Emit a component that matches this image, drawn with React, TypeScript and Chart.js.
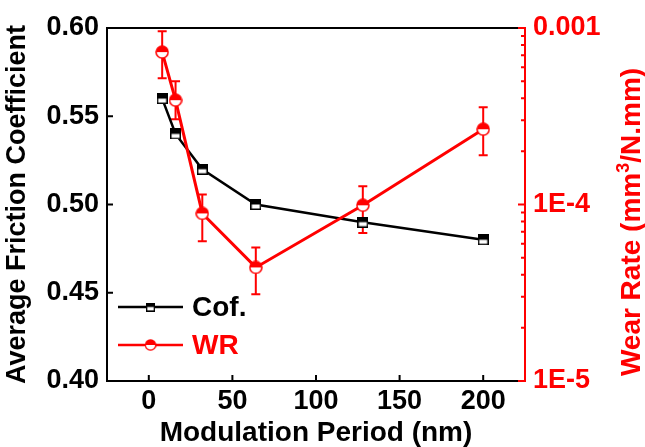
import React, { useEffect, useRef } from 'react';
import { Chart, registerables } from 'chart.js';

Chart.register(...registerables);

const periods = [8, 16, 32, 64, 128, 200];
const cofValues = [0.56, 0.54, 0.52, 0.5, 0.49, 0.48];
const wrValues = [7.3e-4, 3.9e-4, 8.9e-5, 4.4e-5, 9.9e-5, 2.67e-4];
const wrErrHigh = [9.6e-4, 5.0e-4, 1.14e-4, 5.7e-5, 1.27e-4, 3.56e-4];
const wrErrLow = [5.2e-4, 3.04e-4, 6.2e-5, 3.1e-5, 6.9e-5, 1.9e-4];

const xTickValues = [0, 50, 100, 150, 200];
const cofTickValues = [0.4, 0.45, 0.5, 0.55, 0.6];
const wrDecades = [-5, -4, -3];
const wrTickLabels = ['1E-5', '1E-4', '0.001'];

const FONT = '"Liberation Sans", Arial, sans-serif';
const BLACK = '#000000';
const RED = '#ff0000';

function halfSquare(size: number, color: string) {
  const c = document.createElement('canvas');
  c.width = size;
  c.height = size;
  const g = c.getContext('2d')!;
  g.fillStyle = '#fff';
  g.fillRect(0, 0, size, size);
  g.fillStyle = color;
  g.fillRect(0, 0, size, size / 2);
  g.strokeStyle = color;
  g.lineWidth = 1.5;
  g.strokeRect(0.75, 0.75, size - 1.5, size - 1.5);
  return c;
}

function halfCircle(size: number, color: string) {
  const c = document.createElement('canvas');
  c.width = size;
  c.height = size;
  const g = c.getContext('2d')!;
  const r = size / 2 - 1;
  const cx = size / 2;
  g.fillStyle = '#fff';
  g.beginPath();
  g.arc(cx, cx, r, 0, Math.PI * 2);
  g.fill();
  g.fillStyle = color;
  g.beginPath();
  g.arc(cx, cx, r, Math.PI, Math.PI * 2);
  g.closePath();
  g.fill();
  g.strokeStyle = color;
  g.lineWidth = 1.5;
  g.beginPath();
  g.arc(cx, cx, r, 0, Math.PI * 2);
  g.stroke();
  return c;
}

export default function App() {
  const ref = useRef<HTMLCanvasElement>(null);

  useEffect(() => {
    document.body.style.margin = '0';
    const canvas = ref.current!;
    const sq = halfSquare(11, BLACK);
    const ci = halfCircle(14, RED);

    const errorBars = {
      id: 'errorBars',
      beforeDatasetsDraw(chart: any) {
        const ctx = chart.ctx;
        const xs = chart.scales.x;
        const ys = chart.scales.y2;
        ctx.save();
        ctx.strokeStyle = RED;
        ctx.lineWidth = 2;
        periods.forEach((p, i) => {
          const px = xs.getPixelForValue(p);
          const hi = ys.getPixelForValue(wrErrHigh[i]);
          const lo = ys.getPixelForValue(wrErrLow[i]);
          ctx.beginPath();
          ctx.moveTo(px, hi);
          ctx.lineTo(px, lo);
          ctx.moveTo(px - 4.5, hi);
          ctx.lineTo(px + 4.5, hi);
          ctx.moveTo(px - 4.5, lo);
          ctx.lineTo(px + 4.5, lo);
          ctx.stroke();
        });
        ctx.restore();
      },
    };

    const decorations = {
      id: 'decorations',
      afterDraw(chart: any) {
        const ctx = chart.ctx;
        const { left, right, top, bottom } = chart.chartArea;
        ctx.save();
        // top frame
        ctx.strokeStyle = BLACK;
        ctx.lineWidth = 2;
        ctx.beginPath();
        ctx.moveTo(left, top);
        ctx.lineTo(right, top);
        ctx.stroke();
        // inner ticks
        const xs = chart.scales.x;
        ctx.beginPath();
        xs.ticks.forEach((t: any) => {
          const px = xs.getPixelForValue(t.value);
          ctx.moveTo(px, bottom);
          ctx.lineTo(px, bottom - 6);
        });
        const ys = chart.scales.y;
        ys.ticks.forEach((t: any) => {
          const py = ys.getPixelForValue(t.value);
          ctx.moveTo(left, py);
          ctx.lineTo(left + 6, py);
        });
        ctx.stroke();
        const y2 = chart.scales.y2;
        ctx.strokeStyle = RED;
        ctx.beginPath();
        y2.ticks.forEach((t: any) => {
          const py = y2.getPixelForValue(t.value);
          const len = t.major ? 7 : 4;
          ctx.moveTo(right, py);
          ctx.lineTo(right - len, py);
        });
        ctx.stroke();

        // legend
        const items = chart.data.datasets.map((d: any) => ({
          label: d.label,
          color: d.borderColor,
          img: d.pointStyle,
        }));
        const order = [1, 0];
        const lx0 = left + 11;
        const lx1 = left + 76;
        const ly = [307, 345];
        order.forEach((di, k) => {
          const it = items[di];
          ctx.strokeStyle = it.color;
          ctx.lineWidth = 2.5;
          ctx.beginPath();
          ctx.moveTo(lx0, ly[k]);
          ctx.lineTo(lx1, ly[k]);
          ctx.stroke();
          const img = it.img as HTMLCanvasElement;
          const s = di === 1 ? 9 : 12;
          ctx.drawImage(img, (lx0 + lx1) / 2 - s / 2, ly[k] - s / 2, s, s);
          ctx.fillStyle = it.color;
          ctx.font = `bold 28px ${FONT}`;
          ctx.textBaseline = 'middle';
          ctx.textAlign = 'left';
          ctx.fillText(it.label, left + 85, ly[k] + 1);
        });

        // right axis title
        ctx.save();
        ctx.translate(640, 222);
        ctx.rotate(-Math.PI / 2);
        ctx.fillStyle = RED;
        ctx.textBaseline = 'alphabetic';
        ctx.textAlign = 'left';
        const big = `bold 28px ${FONT}`;
        const small = `bold 18px ${FONT}`;
        const p1 = 'Wear Rate (mm';
        const p2 = '3';
        const p3 = '/N.mm)';
        ctx.font = big;
        const w1 = ctx.measureText(p1).width;
        const w3 = ctx.measureText(p3).width;
        ctx.font = small;
        const w2 = ctx.measureText(p2).width;
        const total = w1 + w2 + w3;
        let x = -total / 2;
        ctx.font = big;
        ctx.fillText(p1, x, 0);
        x += w1;
        ctx.font = small;
        ctx.fillText(p2, x, -11);
        x += w2;
        ctx.font = big;
        ctx.fillText(p3, x, 0);
        ctx.restore();

        ctx.restore();
      },
    };

    const chart = new Chart(canvas, {
      type: 'line',
      data: {
        datasets: [
          {
            label: 'WR',
            data: periods.map((p, i) => ({ x: p, y: wrValues[i] })),
            yAxisID: 'y2',
            borderColor: RED,
            backgroundColor: RED,
            borderWidth: 3,
            pointStyle: ci as any,
            pointRadius: 7,
            order: 0,
          },
          {
            label: 'Cof.',
            data: periods.map((p, i) => ({ x: p, y: cofValues[i] })),
            yAxisID: 'y',
            borderColor: BLACK,
            backgroundColor: BLACK,
            borderWidth: 2.5,
            pointStyle: sq as any,
            pointRadius: 6,
            order: 1,
          },
        ],
      },
      options: {
        animation: false,
        responsive: false,
        devicePixelRatio: 1,
        layout: { padding: { top: 28, left: 0, right: 0, bottom: 0 } },
        plugins: {
          legend: { display: false },
          tooltip: { enabled: false },
        },
        scales: {
          x: {
            type: 'linear',
            position: 'bottom',
            min: -25,
            max: 225,
            afterBuildTicks: (s: any) => {
              s.ticks = xTickValues.map((v) => ({ value: v }));
            },
            afterFit: (s: any) => {
              s.height = 66;
            },
            grid: { display: false, drawTicks: false },
            border: { display: true, color: BLACK, width: 2 },
            ticks: {
              color: BLACK,
              font: { family: FONT, size: 27, weight: 'bold' },
              padding: 4,
              maxRotation: 0,
              autoSkip: false,
            },
            title: {
              display: true,
              text: 'Modulation Period (nm)',
              color: BLACK,
              font: { family: FONT, size: 28, weight: 'bold', lineHeight: 1 },
              padding: 0,
            },
          },
          y: {
            type: 'linear',
            position: 'left',
            min: 0.4,
            max: 0.6,
            afterBuildTicks: (s: any) => {
              s.ticks = cofTickValues.map((v) => ({ value: v }));
            },
            afterFit: (s: any) => {
              s.width = 107;
            },
            grid: { display: false, drawTicks: false },
            border: { display: true, color: BLACK, width: 2 },
            ticks: {
              color: BLACK,
              font: { family: FONT, size: 27, weight: 'bold' },
              padding: 8,
              autoSkip: false,
              callback: (v: any) => Number(v).toFixed(2),
            },
            title: {
              display: true,
              text: 'Average Friction Coefficient',
              color: BLACK,
              font: { family: FONT, size: 27, weight: 'bold' },
              padding: { top: 1, bottom: 0 },
            },
          },
          y2: {
            type: 'logarithmic',
            position: 'right',
            min: 1e-5,
            max: 1e-3,
            afterBuildTicks: (s: any) => {
              const t: any[] = [];
              for (let d = 0; d < wrDecades.length - 1; d++) {
                for (let m = 1; m <= 9; m++) {
                  t.push({ value: m * Math.pow(10, wrDecades[d]), major: m === 1 });
                }
              }
              t.push({ value: Math.pow(10, wrDecades[wrDecades.length - 1]), major: true });
              s.ticks = t;
            },
            afterFit: (s: any) => {
              s.width = 120;
            },
            grid: { display: false, drawTicks: false },
            border: { display: true, color: RED, width: 2 },
            ticks: {
              color: RED,
              font: { family: FONT, size: 27, weight: 'bold' },
              padding: 8,
              autoSkip: false,
              callback: (v: any) => {
                const e = Math.log10(Number(v));
                const idx = wrDecades.findIndex((d) => Math.abs(d - e) < 1e-6);
                return idx >= 0 ? wrTickLabels[idx] : '';
              },
            },
          },
        },
      },
      plugins: [errorBars, decorations],
    });

    return () => chart.destroy();
  }, []);

  return (
    <div style={{ position: 'fixed', left: 0, top: 0, width: 645, height: 447, background: '#fff' }}>
      <canvas ref={ref} width={645} height={447} style={{ width: 645, height: 447 }} />
    </div>
  );
}
